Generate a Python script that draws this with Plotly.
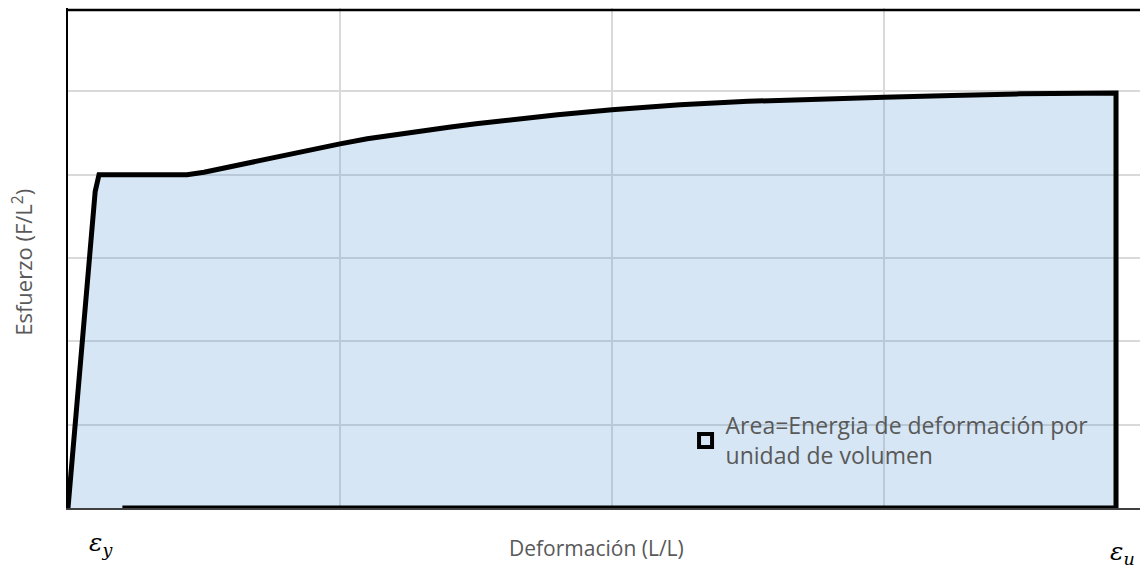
import plotly.graph_objects as go

# Stress-strain curve (x in grid units, y in grid units)
strain = [0.0, 0.1, 0.114, 0.4375, 0.5, 0.6, 0.7, 0.8, 0.9, 1.0, 1.1, 1.2, 1.3, 1.4, 1.5, 1.6,
          1.8, 2.0, 2.25, 2.5, 2.75, 3.0, 3.25, 3.5, 3.853, 3.853, 0.2]
stress = [0.0, 3.8, 4.0, 4.0, 4.03, 4.1, 4.17, 4.24, 4.31, 4.37, 4.43, 4.48, 4.53, 4.57, 4.61,
          4.65, 4.72, 4.78, 4.84, 4.88, 4.91, 4.93, 4.95, 4.97, 4.98, 0.0, 0.0]
legend_label = "Area=Energia de deformación por<br>unidad de volumen"
x_title = "Deformación (L/L)"
y_title = "Esfuerzo (F/L<sup>2</sup>)"
eps_labels = ["<i>ε<sub>y</sub></i>", "<i>ε<sub>u</sub></i>"]
eps_x = [0.12, 3.875]
eps_y = [-0.071, -0.09]

fill_rgba = "rgba(91,155,213,0.25)"
fig = go.Figure()
fig.add_trace(go.Scatter(
    x=strain, y=stress, mode="lines", fill="toself", fillcolor=fill_rgba,
    line=dict(color="black", width=5), showlegend=False, hoverinfo="skip"))
# legend entry
fig.add_trace(go.Scatter(
    x=[None], y=[None], mode="markers", name=legend_label,
    marker=dict(symbol="square", size=13, color="#d6e5f4",
                line=dict(color="black", width=4))))

gray = "#595959"
fig.update_layout(
    width=1148, height=572,
    margin=dict(l=60, r=0, t=0, b=72),
    paper_bgcolor="white", plot_bgcolor="white",
    font=dict(family="Open Sans", color=gray, size=21),
    showlegend=True,
    legend=dict(x=0.5676, y=0.208, xanchor="left", yanchor="top",
                bgcolor="rgba(0,0,0,0)", font=dict(size=23, color=gray),
                itemwidth=30),
    xaxis=dict(range=[0, 4], dtick=1, tick0=0, showticklabels=False, ticks="",
               showgrid=True, gridcolor="#d9d9d9", gridwidth=2, zeroline=False,
               showline=True, linecolor="#404040", linewidth=1.5, automargin=False),
    yaxis=dict(range=[0, 6], dtick=1, tick0=0, showticklabels=False, ticks="",
               showgrid=True, gridcolor="#d9d9d9", gridwidth=2, zeroline=False,
               showline=True, linecolor="black", linewidth=2, automargin=False),
)
fig.add_shape(type="line", xref="paper", yref="y", x0=0, x1=1, y0=5.975, y1=5.975,
              line=dict(color="black", width=2.5))
# axis titles
fig.add_annotation(x=0.486, y=-0.08, xref="paper", yref="paper", text=x_title,
                   xanchor="center", yanchor="middle",
                   showarrow=False, font=dict(size=21, color=gray))
fig.add_annotation(x=-0.0425, y=0.492, xref="paper", yref="paper", text=y_title,
                   xanchor="center", yanchor="middle",
                   showarrow=False, textangle=-90, font=dict(size=22, color=gray))
for xv, t, yv in zip(eps_x, eps_labels, eps_y):
    fig.add_annotation(x=xv, y=yv, xref="x", yref="paper", text=t, showarrow=False,
                       xanchor="center", yanchor="middle",
                       font=dict(family="DejaVu Serif", size=25, color="black"))

fig.write_html("out.html")
